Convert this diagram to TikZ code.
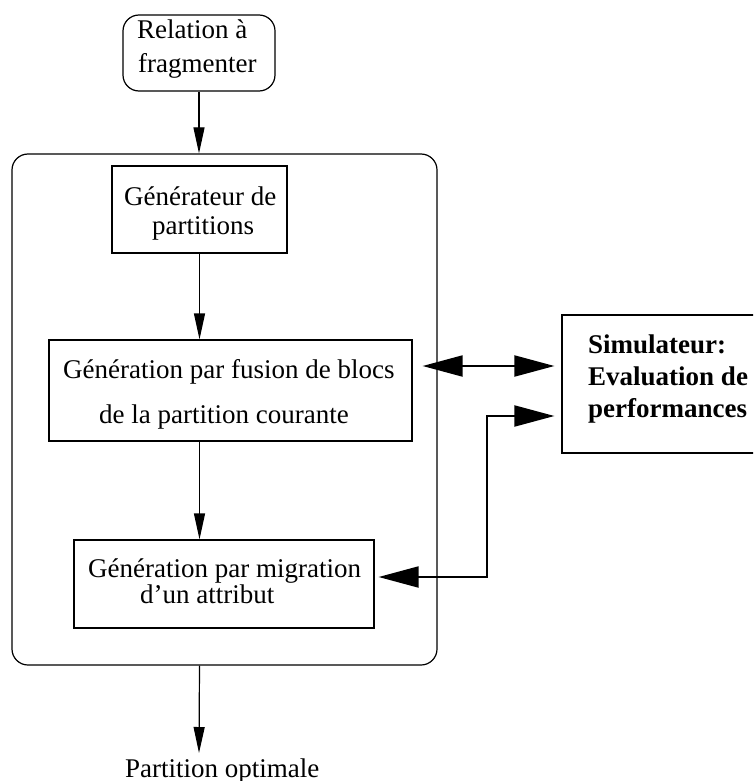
\documentclass[tikz,border=0pt]{standalone}
\usepackage{fontspec}
\setmainfont{Liberation Serif}
\usetikzlibrary{arrows.meta}
\begin{document}
\begin{tikzpicture}[x=1pt,y=-1pt,
  box/.style={draw, line width=1.2pt, inner sep=0pt},
  rbox/.style={box, rounded corners=16pt},
  txt/.style={anchor=base west, inner sep=0pt, font=\fontsize{27}{30}\selectfont},
  btxt/.style={txt, font=\fontsize{27}{30}\selectfont\bfseries},
  flow/.style={line width=1.2pt, -{Triangle[length=26pt,width=11pt]}},
  link/.style={line width=2pt, {Triangle[length=40pt,width=21pt]}-{Triangle[length=40pt,width=21pt]}}
]
\clip (0,0) rectangle (753,781);
\fill[white] (0,0) rectangle (753,781);

% input relation
\node[rbox, minimum width=152pt, minimum height=76pt] (rel) at (199,53) {};
\node[txt] (rel1) at (137,39) {Relation à};
\node[txt] (rel2) at (138,73) {fragmenter};

% outer process frame
\node[rbox, minimum width=425pt, minimum height=511pt] (frame) at (224.5,409.5) {};

% partition generator
\node[box, minimum width=175pt, minimum height=87pt] (gen) at (199.5,209.5) {};
\node[txt] (gen1) at (124,205) {Générateur de};
\node[txt] (gen2) at (152,234) {partitions};

% merge step
\node[box, minimum width=363pt, minimum height=101pt] (fus) at (230.5,390.5) {};
\node[txt] (fus1) at (63,378) {Génération par fusion de blocs};
\node[txt] (fus2) at (99,423) {de la partition courante};

% migration step
\node[box, minimum width=300pt, minimum height=88pt] (mig) at (224,584) {};
\node[txt] (mig1) at (88,577) {Génération par migration};
\node[txt] (mig2) at (140,603) {d’un attribut};

% simulator
\node[box, minimum width=210pt, minimum height=138pt] (sim) at (667,384) {};
\node[btxt] (sim1) at (588,353) {Simulateur:};
\node[btxt] (sim2) at (588,385) {Evaluation de};
\node[btxt] (sim3) at (588,417) {performances};

% result
\coordinate (outpt) at (199,753);
\node[txt] (res) at (125,777) {Partition optimale};

% vertical flow
\draw[flow] (rel.south) -- (frame.north -| rel.south);
\draw[flow] (gen.south) -- (fus.north -| gen.south);
\draw[flow] (fus.south -| gen.south) -- (mig.north -| gen.south);
\draw[flow] (frame.south -| gen.south) -- (outpt);

% exchanges with the simulator
\draw[link, shorten <=10pt, shorten >=7pt] ([yshift=24.5pt]fus.east) -- ([yshift=18pt]sim.west);
\draw[link, shorten <=4pt, shorten >=7pt] ([yshift=7pt]mig.east) -| (487,500) |- ([yshift=-32pt]sim.west);
\end{tikzpicture}
\end{document}
